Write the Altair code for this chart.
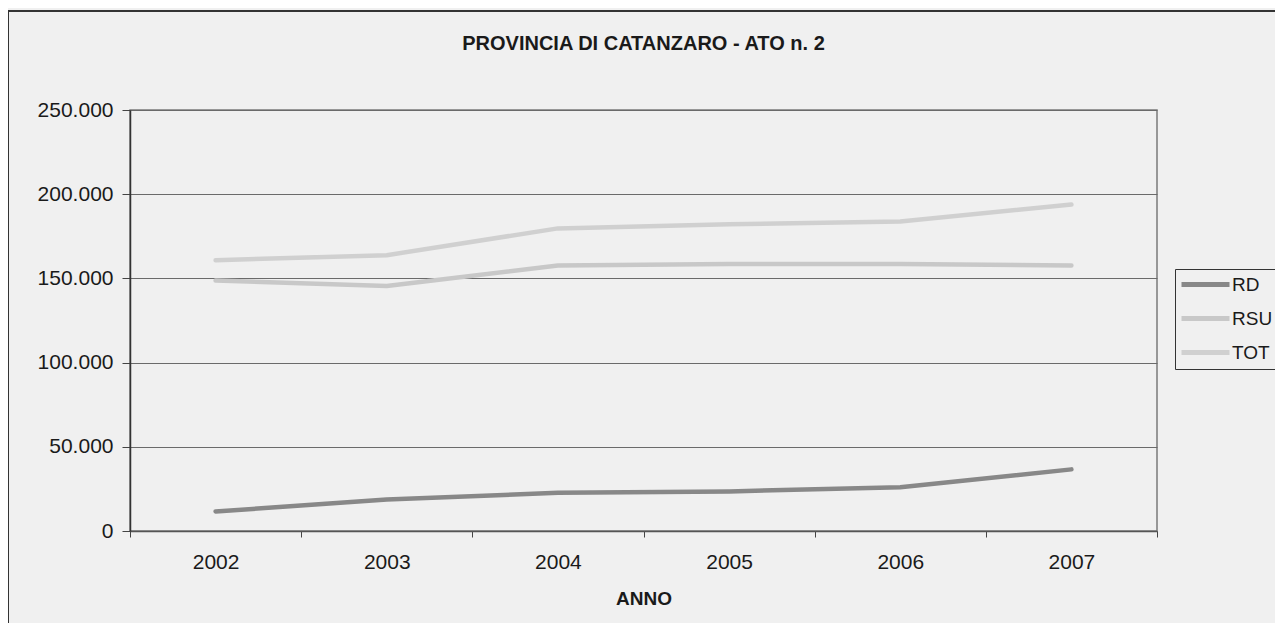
import altair as alt
import pandas as pd

years = ["2002", "2003", "2004", "2005", "2006", "2007"]
rd = [11600, 18700, 22700, 23500, 26000, 36600]
rsu = [148700, 145500, 157700, 158600, 158600, 157700]
tot = [160800, 163800, 179700, 182200, 183800, 193900]
series_names = ["RD", "RSU", "TOT"]
series_colors = ["#888888", "#c8c8c8", "#d0d0d0"]
y_ticks = [0, 50000, 100000, 150000, 200000, 250000]

rows = []
for name, vals in zip(series_names, [rd, rsu, tot]):
    for yr, v in zip(years, vals):
        rows.append({"anno": yr, "serie": name, "valore": v})
df = pd.DataFrame(rows)

FONT = "Liberation Sans"

lines = alt.Chart(df).mark_line(strokeWidth=4.5, strokeCap="round", strokeJoin="round").encode(
    x=alt.X(
        "anno:O",
        bandPosition=0.5,
        scale=alt.Scale(type="band", paddingInner=0, paddingOuter=0),
        axis=alt.Axis(
            title="ANNO",
            labelAngle=0,
            tickBand="extent",
            tickSize=6,
            tickColor="#444444",
            domainColor="#555555",
            domainWidth=1.5,
            labelFont=FONT,
            labelFontSize=21,
            labelColor="#1a1a1a",
            labelPadding=14,
            titleFont=FONT,
            titleFontSize=19,
            titleFontWeight="bold",
            titleColor="#1a1a1a",
            titlePadding=17,
            grid=False,
        ),
    ),
    y=alt.Y(
        "valore:Q",
        scale=alt.Scale(domain=[0, 250000], nice=False),
        axis=alt.Axis(
            title=None,
            values=y_ticks,
            labelExpr="replace(format(datum.value, ','), ',', '.')",
            tickSize=8,
            tickColor="#444444",
            domainColor="#333333",
            domainWidth=1.5,
            grid=True,
            gridColor="#6a6a6a",
            gridWidth=1,
            labelFont=FONT,
            labelFontSize=21,
            labelColor="#1a1a1a",
            labelPadding=9,
        ),
    ),
    color=alt.Color(
        "serie:N",
        scale=alt.Scale(domain=series_names, range=series_colors),
        legend=alt.Legend(
            title=None,
            orient="none",
            legendX=1045,
            legendY=159,
            symbolType="M-1.5,0L6.5,0",
            symbolSize=144,
            symbolStrokeWidth=5,
            labelFont=FONT,
            labelFontSize=19,
            labelColor="#1a1a1a",
            labelOffset=32,
            strokeColor="#333333",
            padding=6,
            rowPadding=13,
        ),
    ),
)

frame = alt.Chart(pd.DataFrame({"k": [0]})).mark_rect(
    filled=False, stroke="#333333", strokeWidth=2
).encode(
    x=alt.value(-122), x2=alt.value(1300), y=alt.value(-99), y2=alt.value(700)
)

chart = alt.layer(frame, lines).properties(
    width=1027,
    height=421,
    title=alt.TitleParams(
        "PROVINCIA DI CATANZARO - ATO n. 2",
        font=FONT,
        fontSize=20,
        fontWeight="bold",
        color="#1a1a1a",
        anchor="middle",
        frame="group",
        baseline="alphabetic",
        offset=-60,
    ),
    autosize="none",
    padding={"left": 122, "top": 102, "right": 118, "bottom": 92},
    background="#f0f0f0",
).configure_view(stroke="#7a7a7a", strokeWidth=1.5)

chart.save("out.html", embed_options={"renderer": "svg", "actions": False})
